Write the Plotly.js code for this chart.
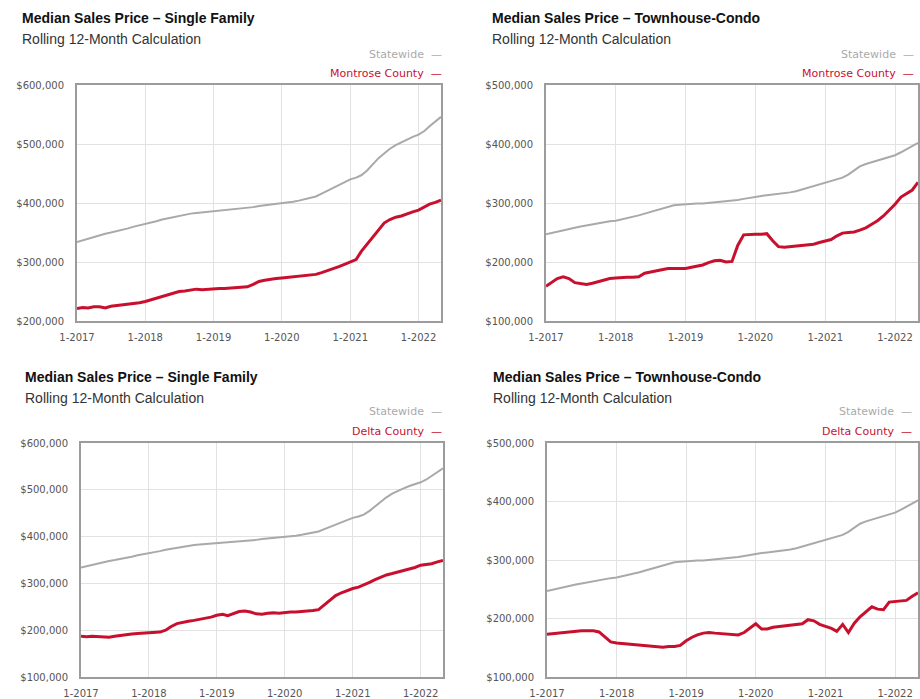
<!DOCTYPE html>
<html>
<head>
<meta charset="utf-8">
<script src="https://cdn.plot.ly/plotly-3.0.1.min.js"></script>
<style>
html,body{margin:0;padding:0;background:#fff;}
#chart{width:920px;height:699px;}
</style>
</head>
<body>
<div id="chart"></div>
<script>
// ---- DATA (monthly, rolling 12-month median, Jan 2017 - May 2022) ----
const statewideSingleFamily = [
  334,337,340,343,346,348,350,352,355,357,360,362,
  364,366,369,372,374,377,379,381,382,383,384,385,
  385,386,387,388,389,390,391,393,395,396,398,399,
  400,401,402,404,406,408,411,416,421,426,431,435,
  440,443,447,455,465,476,484,492,498,503,508,512,
  516,522,530,538,546
];
const montroseSingleFamily = [
  221,223,222,224,224,222,225,226,228,228,230,231,
  233,236,239,242,245,248,250,251,253,254,253,254,
  254,255,255,256,256,257,258,262,267,269,271,272,
  273,274,275,276,276,277,279,282,285,288,292,296,
  300,304,318,330,342,355,366,372,376,378,382,385,
  388,393,398,401,405
];
const deltaSingleFamily = [
  187,186,187,186,186,185,187,189,190,192,193,194,
  195,195,196,200,208,214,217,219,221,223,225,228,
  232,234,231,236,240,241,239,235,234,236,237,236,
  238,239,239,240,240,242,244,254,264,274,280,285,
  289,292,296,302,308,313,318,321,324,327,330,334,
  339,340,342,346,349
];
const statewideTownhouse = [
  247,249,251,253,256,258,260,262,264,266,268,269,
  270,272,274,276,279,282,285,288,291,294,296,297,
  298,298,299,299,300,300,301,302,304,305,307,309,
  311,312,313,314,315,316,318,320,323,326,329,332,
  334,337,340,343,348,355,362,366,369,372,375,378,
  381,386,391,396,402
];
const montroseTownhouse = [
  159,166,172,175,172,165,163,162,164,167,170,172,
  173,174,174,174,175,181,183,186,188,189,189,189,
  189,191,193,195,199,202,203,200,201,228,246,247,
  247,247,248,236,226,225,226,227,228,228,230,233,
  235,238,244,249,250,251,254,258,264,270,278,287,
  298,310,316,322,335
];
const deltaTownhouse = [
  173,174,176,177,178,178,179,179,179,177,168,160,
  158,157,156,155,154,153,152,151,151,152,152,154,
  162,168,172,175,176,175,174,174,173,172,176,183,
  191,182,182,185,186,188,189,189,191,198,196,190,
  186,183,178,190,176,192,203,212,220,216,215,228,
  229,229,231,238,244
];
const tickDates = ['2017-01-01','2018-01-01','2019-01-01','2020-01-01','2021-01-01','2022-01-01'];
const tickLabels = ['1-2017','1-2018','1-2019','1-2020','1-2021','1-2022'];
const panelTitles = ['Median Sales Price – Single Family','Median Sales Price – Townhouse-Condo',
                     'Median Sales Price – Single Family','Median Sales Price – Townhouse-Condo'];
const subtitle = 'Rolling 12-Month Calculation';
const countyNames = ['Montrose County','Montrose County','Delta County','Delta County'];
const stateName = 'Statewide';

// ---- BUILD ----
const months = [];
for (let y = 2017; y <= 2022; y++) {
  for (let m = 1; m <= 12; m++) {
    if (y === 2022 && m > 5) break;
    months.push(y + '-' + String(m).padStart(2, '0') + '-01');
  }
}
const k = a => a.map(v => v * 1000);

const GRAY = '#a9a9a9';
const RED = '#c8102e';
const W = 920, H = 699;
const px = x => x / W;
const py = y => 1 - y / H;

const panels = [
  {state: statewideSingleFamily, county: montroseSingleFamily, x0: 77, x1: 441, y0: 85, y1: 321, yr: [200000, 600000], tx: 20, tt: 18, ly: 54, lx: 444},
  {state: statewideTownhouse, county: montroseTownhouse, x0: 546, x1: 918, y0: 85, y1: 321, yr: [100000, 500000], tx: 490, tt: 18, ly: 54, lx: 916},
  {state: statewideSingleFamily, county: deltaSingleFamily, x0: 81, x1: 443, y0: 443, y1: 677, yr: [100000, 600000], tx: 23, tt: 377, ly: 412, lx: 444},
  {state: statewideTownhouse, county: deltaTownhouse, x0: 547, x1: 918, y0: 443, y1: 677, yr: [100000, 500000], tx: 491, tt: 377, ly: 412, lx: 914}
];

const data = [];
const layout = {
  width: W, height: H,
  margin: {l: 0, r: 0, t: 0, b: 0},
  paper_bgcolor: '#fff', plot_bgcolor: '#fff',
  showlegend: false,
  annotations: []
};
const tickFont = {family: 'DejaVu Sans, Verdana, sans-serif', size: 10, color: '#555'};

panels.forEach((p, i) => {
  const n = i === 0 ? '' : String(i + 1);
  data.push({x: months, y: k(p.state), xaxis: 'x' + n, yaxis: 'y' + n, type: 'scatter', mode: 'lines',
    line: {color: GRAY, width: 2}, hoverinfo: 'skip'});
  data.push({x: months, y: k(p.county), xaxis: 'x' + n, yaxis: 'y' + n, type: 'scatter', mode: 'lines',
    line: {color: RED, width: 3}, hoverinfo: 'skip'});
  layout['xaxis' + n] = {
    domain: [px(p.x0), px(p.x1)], anchor: 'y' + n, type: 'date',
    range: ['2017-01-01', '2022-05-01'],
    tickvals: tickDates, ticktext: tickLabels, tickfont: tickFont,
    showgrid: true, gridcolor: '#e2e2e2', gridwidth: 1,
    showline: true, mirror: true, linecolor: '#9c9c9c', linewidth: 2,
    ticks: '', ticklabelstandoff: 6, zeroline: false, fixedrange: true
  };
  layout['yaxis' + n] = {
    domain: [py(p.y1), py(p.y0)], anchor: 'x' + n,
    range: p.yr, dtick: 100000, tickprefix: '$', tickformat: ',d', tickfont: tickFont,
    showgrid: true, gridcolor: '#e2e2e2', gridwidth: 1,
    showline: true, mirror: true, linecolor: '#9c9c9c', linewidth: 2,
    ticks: '', ticklabelstandoff: 9, zeroline: false, fixedrange: true
  };
  layout.annotations.push({xref: 'paper', yref: 'paper', x: px(p.tx), y: py(p.tt), xanchor: 'left', yanchor: 'middle',
    text: '<b>' + panelTitles[i] + '</b>', showarrow: false,
    font: {family: 'Liberation Sans, Arial, sans-serif', size: 14, color: '#111'}});
  layout.annotations.push({xref: 'paper', yref: 'paper', x: px(p.tx), y: py(p.tt + 21), xanchor: 'left', yanchor: 'middle',
    text: subtitle, showarrow: false,
    font: {family: 'Liberation Sans, Arial, sans-serif', size: 14, color: '#333'}});
  layout.annotations.push({xref: 'paper', yref: 'paper', x: px(p.lx), y: py(p.ly), xanchor: 'right', yanchor: 'middle',
    text: stateName + '  —', showarrow: false,
    font: {family: 'DejaVu Sans, Verdana, sans-serif', size: 11, color: '#aaa'}});
  layout.annotations.push({xref: 'paper', yref: 'paper', x: px(p.lx), y: py(p.ly + 19), xanchor: 'right', yanchor: 'middle',
    text: countyNames[i] + '  —', showarrow: false,
    font: {family: 'DejaVu Sans, Verdana, sans-serif', size: 11, color: RED}});
});

Plotly.newPlot('chart', data, layout, {staticPlot: true, displayModeBar: false});
</script>
</body>
</html>
